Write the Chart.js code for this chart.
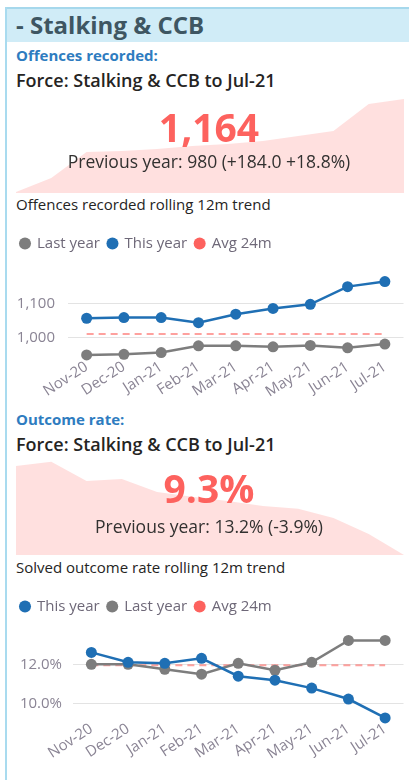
<!DOCTYPE html>
<html>
<head>
<meta charset="utf-8">
<script src="https://cdn.jsdelivr.net/npm/chart.js@4.4.0/dist/chart.umd.min.js"></script>
<style>
  html, body { margin: 0; padding: 0; background: #fff; }
  body { width: 409px; height: 780px; position: relative; overflow: hidden;
    font-family: "Open Sans", "Noto Sans", sans-serif; color: #252423; }
  .t { position: absolute; white-space: nowrap; line-height: 1; }
  .frame { position: absolute; left: 5px; top: 7px; bottom: 0; width: 2px; background: #a9dbef; }
  .head { position: absolute; left: 7px; right: 0; top: 7px; height: 33px;
    background: #d0ecf7; border-top: 2px solid #a6d8ec; }
  .head span { position: absolute; left: 9px; top: 4px; font-size: 24px; font-weight: 700;
    color: #3e5662; line-height: 1; white-space: nowrap; }
  .sec { left: 16px; font-size: 15px; font-weight: 700; color: #2e7cc0; }
  .ttl { left: 16px; font-size: 18px; font-weight: 600; color: #252423; }
  .big { left: 9px; width: 400px; text-align: center; font-size: 39px; font-weight: 700; color: #fd625e; }
  .prev { left: 9px; width: 400px; text-align: center; font-size: 17.5px; color: #323130; }
  .sub { left: 16px; font-size: 15px; color: #252423; }
  canvas { position: absolute; }
</style>
</head>
<body>
<div class="frame"></div>
<div class="head"><span>- Stalking &amp; CCB</span></div>

<div class="t sec" style="top:47.7px">Offences recorded:</div>
<div class="t ttl" style="top:70.7px">Force: Stalking &amp; CCB to Jul-21</div>
<canvas id="spark1" style="left:16px;top:99px;width:388px;height:94px"></canvas>
<div class="t big" style="top:107.1px">1,164</div>
<div class="t prev" style="top:152.8px">Previous year: 980 (+184.0 +18.8%)</div>
<div class="t sub" style="top:196.7px">Offences recorded rolling 12m trend</div>
<canvas id="trend1" style="left:0;top:228px;width:409px;height:170px"></canvas>

<div class="t sec" style="top:411.7px">Outcome rate:</div>
<div class="t ttl" style="top:434.7px">Force: Stalking &amp; CCB to Jul-21</div>
<canvas id="spark2" style="left:16px;top:460px;width:388px;height:95px"></canvas>
<div class="t big" style="top:468.4px">9.3%</div>
<div class="t prev" style="top:517.8px">Previous year: 13.2% (-3.9%)</div>
<div class="t sub" style="top:559.7px">Solved outcome rate rolling 12m trend</div>
<canvas id="trend2" style="left:0;top:591px;width:409px;height:178px"></canvas>

<script>
// ---- data ----
const months = ["Nov-20", "Dec-20", "Jan-21", "Feb-21", "Mar-21", "Apr-21", "May-21", "Jun-21", "Jul-21"];
const offThisYear = [1056, 1058, 1058, 1043, 1068, 1085, 1097, 1149, 1164];
const offLastYear = [948, 950, 955, 975, 975, 972, 976, 969, 980];
const offAvg24 = [1010, 1010, 1010, 1010, 1010, 1010, 1010, 1010, 1010];
const offTicks = [1000, 1100];

const rateThisYear = [12.6, 12.1, 12.05, 12.3, 11.4, 11.2, 10.8, 10.25, 9.3];
const rateLastYear = [12.0, 12.0, 11.75, 11.5, 12.05, 11.7, 12.1, 13.2, 13.2];
const rateAvg24 = [11.95, 11.95, 11.95, 11.95, 11.95, 11.95, 11.95, 11.95, 11.95];
const rateTicks = [10, 12];

// background sparklines behind the KPI numbers (12 months to Jul-21)
const sparkMonths = ["Aug-20", "Sep-20", "Oct-20", "Nov-20", "Dec-20", "Jan-21",
  "Feb-21", "Mar-21", "Apr-21", "May-21", "Jun-21", "Jul-21"];
const sparkOffences = [883, 925, 1004, 1007, 1013, 1022, 1028, 1037, 1052, 1067, 1149, 1164];
const sparkRate = [13.24, 13.42, 12.57, 12.66, 12.09, 11.87, 11.69, 11.47, 11.34, 10.94, 10.23, 9.3];

const C = {
  blue: "#1f6fb4", gray: "#7d7d7d", red: "#fd625e",
  avg: "rgba(253,98,94,0.6)", pink: "rgba(253,98,94,0.2)",
  tick: "#8a8494", legend: "#6e6878", grid: "#e3e3e3",
};

Chart.defaults.font.family = '"Open Sans", "Noto Sans", sans-serif';
Chart.defaults.animation = false;

function spark(id, labels, values, min, max) {
  return new Chart(document.getElementById(id), {
    type: "line",
    data: { labels, datasets: [{ data: values, fill: "start", backgroundColor: C.pink,
      borderWidth: 0, pointRadius: 0, tension: 0 }] },
    options: {
      responsive: false, maintainAspectRatio: false, events: [],
      layout: { padding: 0 },
      plugins: { legend: { display: false }, tooltip: { enabled: false } },
      scales: {
        x: { display: false },
        y: { display: false, min, max },
      },
    },
  });
}

function series(label, data, color) {
  return { label, data, borderColor: color, backgroundColor: color,
    pointBackgroundColor: color, pointBorderWidth: 0, pointRadius: 5.5,
    borderWidth: 2.5, tension: 0, clip: false };
}
function avgSeries(data) {
  return { label: "Avg 24m", data, borderColor: C.avg, backgroundColor: C.red,
    pointBackgroundColor: C.red, pointBorderWidth: 0, pointRadius: 0,
    borderWidth: 2, borderDash: [7, 5], tension: 0, clip: false };
}

function trend(id, datasets, ticks, fmt, y, yWidth, yPad, xHeight) {
  return new Chart(document.getElementById(id), {
    type: "line",
    data: { labels: months, datasets },
    options: {
      responsive: false, maintainAspectRatio: false, events: [],
      layout: { padding: { left: 12.5, right: 4, top: 0, bottom: 0 } },
      plugins: {
        tooltip: { enabled: false },
        legend: { position: "top", align: "start",
          labels: { usePointStyle: true, pointStyle: "circle", boxWidth: 9, boxHeight: 8.5,
            padding: 8, color: C.legend, font: { size: 15 } } },
      },
      scales: {
        x: { offset: true, grid: { display: false }, border: { display: false },
          ticks: { color: C.tick, font: { size: 15 }, minRotation: 33, maxRotation: 33,
            padding: -10, autoSkip: false },
          afterFit: s => { s.height = xHeight; } },
        y: { min: y[0], max: y[1], grid: { color: C.grid, drawTicks: false },
          border: { display: false },
          ticks: { color: C.tick, font: { size: 15 }, padding: yPad, callback: fmt },
          afterBuildTicks: s => { s.ticks = ticks.map(v => ({ value: v })); },
          afterFit: s => { s.width = yWidth; } },
      },
    },
  });
}

spark("spark1", sparkMonths, sparkOffences, 880, 1164);
spark("spark2", sparkMonths, sparkRate, 9.3, 13.5);

trend("trend1",
  [series("Last year", offLastYear, C.gray), series("This year", offThisYear, C.blue), avgSeries(offAvg24)],
  offTicks, v => v.toLocaleString("en-US"), [933.2, 1224.4], 55.5, 13, 38);

trend("trend2",
  [series("This year", rateThisYear, C.blue), series("Last year", rateLastYear, C.gray), avgSeries(rateAvg24)],
  rateTicks, v => v.toFixed(1) + "%", [9.093, 14.03], 60.5, 11, 47);
</script>
</body>
</html>
